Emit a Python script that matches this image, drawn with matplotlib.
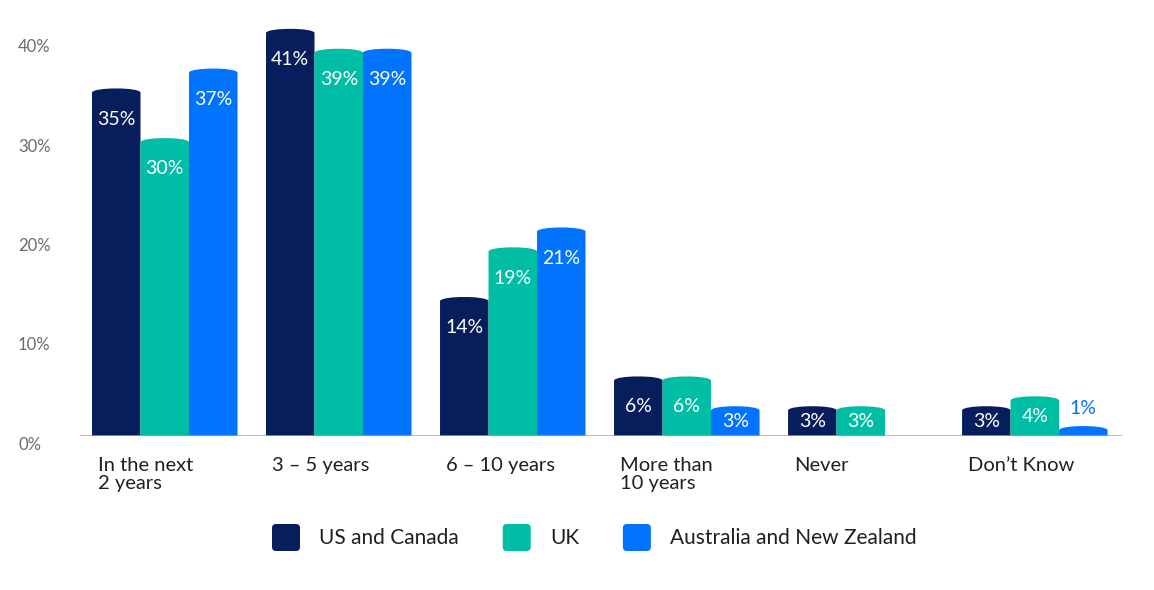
import numpy as np
import matplotlib
matplotlib.use("Agg")
import matplotlib.pyplot as plt
from matplotlib.path import Path
from matplotlib.patches import PathPatch, FancyBboxPatch
from matplotlib.transforms import ScaledTranslation

plt.rcParams['font.family'] = ['Lato', 'DejaVu Sans']

categories = ["In the next\n2 years", "3 – 5 years", "6 – 10 years",
              "More than\n10 years", "Never", "Don’t Know"]
series_names = ["US and Canada", "UK", "Australia and New Zealand"]
us_canada = [35, 41, 14, 6, 3, 3]
uk = [30, 39, 19, 6, 3, 4]
aus_nz = [37, 39, 21, 3, np.nan, 1]
yticks = [0, 10, 20, 30, 40]

colors = ['#061e5b', '#00bea5', '#0073ff']
series = [us_canada, uk, aus_nz]

fig = plt.figure(figsize=(11.54, 5.9), dpi=100)
ax = fig.add_axes([80 / 1154, 154 / 590, 1042 / 1154, 431 / 590])

w = 0.2787
ax.set_xlim(-0.487, 5.501)
ax.set_ylim(0, 43.4)


def bar_path(x0, x1, h):
    d = min(0.4, h * 0.4)
    c = h + d / 3
    k = (x1 - x0) * 0.04
    verts = [(x0, 0), (x1, 0), (x1, h - d),
             (x1 - k, c), (x0 + k, c), (x0, h - d),
             (x0, 0)]
    codes = [Path.MOVETO, Path.LINETO, Path.LINETO,
             Path.CURVE4, Path.CURVE4, Path.CURVE4,
             Path.CLOSEPOLY]
    return Path(verts, codes)


for j, (vals, col) in enumerate(zip(series, colors)):
    for i, v in enumerate(vals):
        if np.isnan(v):
            continue
        x0 = i + (j - 1.5) * w
        ax.add_patch(PathPatch(bar_path(x0, x0 + w, v), facecolor=col,
                               edgecolor='none', lw=0))
        xc = x0 + w / 2
        if v < 2:
            ax.text(xc, v + 1.8, f"{v:.0f}%", color=col, ha='center',
                    va='center', fontsize=14)
        else:
            ax.text(xc, v - min(3.1, v / 2), f"{v:.0f}%", color='white',
                    ha='center', va='center', fontsize=14)

ax.axhline(0, color='#a3a3a3', lw=1.8, zorder=3)
for s in ax.spines.values():
    s.set_visible(False)

ax.set_xticks([])
ax.set_yticks(yticks)
ax.set_yticklabels([f"{t}%" for t in yticks], ha='left', color='#6b6b6b',
                   fontsize=12)
ax.tick_params(axis='y', length=0, pad=44.6)
for lbl in ax.get_yticklabels():
    lbl.set_transform(lbl.get_transform() +
                      ScaledTranslation(0, -0.07, fig.dpi_scale_trans))

for i, cat in enumerate(categories):
    ax.text(i - 1.5 * w + 0.035, -2.15, cat, ha='left', va='top',
            fontsize=14.5, color='#231f20', linespacing=1.08)

# legend
fig.canvas.draw()
renderer = fig.canvas.get_renderer()
x = 2.72
yc = 0.525
for name, col in zip(series_names, colors):
    fig.patches.append(FancyBboxPatch((x, yc - 0.135), 0.28, 0.27,
                                      boxstyle="round,pad=0,rounding_size=0.04",
                                      facecolor=col, edgecolor='none',
                                      transform=fig.dpi_scale_trans, figure=fig))
    t = fig.text(x + 0.47, yc, name, ha='left', va='center', fontsize=15,
                 color='#231f20', transform=fig.dpi_scale_trans)
    bb = t.get_window_extent(renderer)
    x = bb.x1 / fig.dpi + 0.44

fig.savefig("out.png", dpi=100)
